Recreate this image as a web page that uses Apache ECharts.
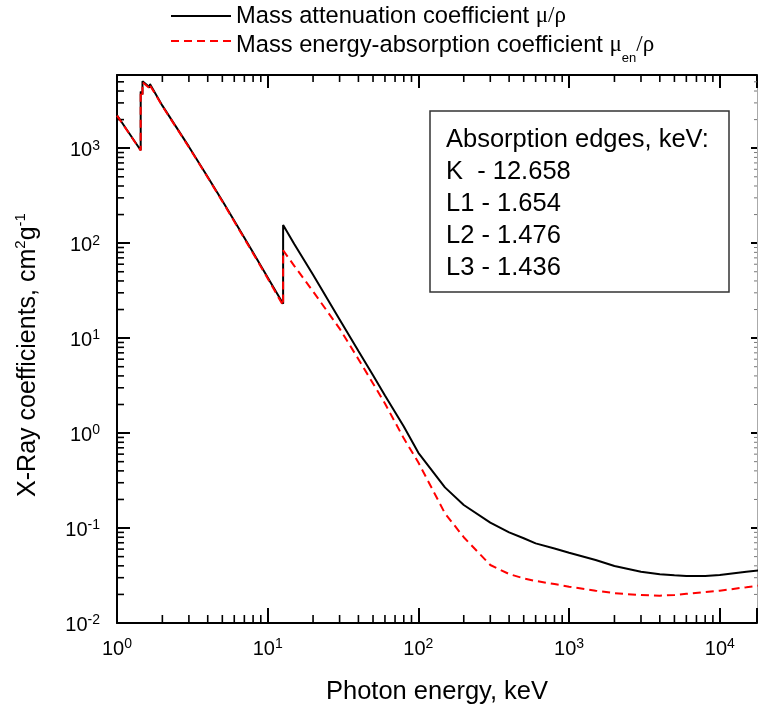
<!DOCTYPE html>
<html><head><meta charset="utf-8">
<script src="https://cdn.jsdelivr.net/npm/echarts@6/dist/echarts.min.js"></script>
<style>html,body{margin:0;padding:0;background:#fff}#c{width:759px;height:708px}</style>
</head><body><div id="c"></div>
<script>
// Photon energies (keV), duplicated at absorption edges
const energy = [1, 1.436, 1.436, 1.476, 1.476, 1.654, 1.654, 2, 3, 4, 5, 6, 8, 10, 12.658, 12.658, 15, 20, 30, 40, 50, 60, 80, 100, 150, 200, 300, 400, 500, 600, 800, 1000, 1500, 2000, 3000, 4000, 5000, 6000, 8000, 10000, 15000, 20000];
// Mass attenuation coefficient mu/rho (cm2/g)
const muRho = [2225, 952, 3950, 3700, 5070, 4350, 4750, 2806, 1038, 498, 279, 172, 79.6, 43.6, 23, 155, 98, 46.5, 15.7, 7.3, 4.06, 2.49, 1.17, 0.62, 0.268, 0.175, 0.114, 0.090, 0.078, 0.069, 0.061, 0.055, 0.046, 0.0398, 0.0347, 0.0326, 0.0318, 0.0313, 0.0313, 0.032, 0.0347, 0.0362];
// Mass energy-absorption coefficient mu_en/rho (cm2/g)
const muEnRho = [2200, 945, 3850, 3600, 4950, 4250, 4600, 2780, 1025, 492, 275, 169, 78, 42.5, 22, 84, 57.7, 31, 12.6, 6.0, 3.33, 2.05, 0.88, 0.49, 0.143, 0.080, 0.0408, 0.0328, 0.0295, 0.0277, 0.0257, 0.0241, 0.0219, 0.0206, 0.0197, 0.0194, 0.0197, 0.0203, 0.0212, 0.0219, 0.0238, 0.0253];
// Axis ranges
const xRange = [1, 17660];
const yRange = [0.01, 5900];
const xExponents = [0, 1, 2, 3, 4];
const yExponents = [-2, -1, 0, 1, 2, 3];
const edgeLines = ['Absorption edges, keV:', 'K  - 12.658', 'L1 - 1.654', 'L2 - 1.476', 'L3 - 1.436'];
const NAME_MU = 'Mass attenuation coefficient μ/ρ';
const NAME_EN = 'Mass energy-absorption coefficient μen/ρ';

const F = '"Liberation Sans", Arial, sans-serif';
const FS = '"Liberation Serif", "Times New Roman", serif';

function minorValues(exps, range) {
  const out = [];
  exps.forEach(k => { for (let m = 2; m <= 9; m++) { const v = m * Math.pow(10, k); if (v > range[0] && v < range[1]) out.push(v); } });
  return out;
}
const xMinor = minorValues(xExponents, xRange);
const yMinor = minorValues(yExponents, yRange);

function powLabel(v) {
  const l = Math.log10(v), e = Math.round(l);
  if (Math.abs(l - e) > 1e-6) return '';
  return '{b|10}{s|' + e + '}';
}
const labelRich = {
  b: {fontSize: 20, lineHeight: 24, fontFamily: F, color: '#000'},
  s: {fontSize: 14, lineHeight: 14, verticalAlign: 'top', fontFamily: F, color: '#000'}
};
const blk = {color: '#000', width: 2};
const noSym = {color: 'rgba(0,0,0,0)', borderColor: 'rgba(0,0,0,0)', borderWidth: 0, opacity: 0};

const chart = echarts.init(document.getElementById('c'), null, {renderer: 'canvas'});
chart.setOption({
  animation: false,
  backgroundColor: '#fff',
  textStyle: {fontFamily: F},
  grid: {left: 117, right: 2, top: 75, bottom: 85, containLabel: false, outerBoundsMode: 'none'},
  legend: [
    {data: [NAME_MU], left: 170, top: 4, padding: 0, itemWidth: 60, itemHeight: 14, selectedMode: false,
     itemStyle: noSym,
     formatter: () => '{t|Mass attenuation coefficient }{g|μ/ρ}',
     textStyle: {rich: {
       t: {fontSize: 23.7, fontFamily: F, lineHeight: 26, color: '#000'},
       g: {fontSize: 23, fontFamily: FS, lineHeight: 26, color: '#000'}}}},
    {data: [NAME_EN], left: 170, top: 33, padding: 0, itemWidth: 60, itemHeight: 14, selectedMode: false,
     itemStyle: noSym,
     formatter: () => '{t|Mass energy-absorption coefficient }{g|μ}{s|en}{g|/ρ}',
     textStyle: {padding: [8, 0, 0, 0], rich: {
       t: {fontSize: 23.7, fontFamily: F, lineHeight: 40, color: '#000'},
       g: {fontSize: 23, fontFamily: FS, lineHeight: 40, color: '#000'},
       s: {fontSize: 13, fontFamily: F, lineHeight: 14, verticalAlign: 'bottom', color: '#000'}}}}
  ],
  xAxis: [
    {type: 'log', logBase: 10, min: xRange[0], max: xRange[1], position: 'bottom',
     name: 'Photon energy, keV', nameLocation: 'middle', nameGap: 56,
     nameTextStyle: {fontSize: 25.5, fontFamily: F, color: '#000'},
     axisLine: {lineStyle: blk}, axisTick: {inside: true, length: 15, lineStyle: blk},
     axisLabel: {formatter: powLabel, rich: labelRich, fontSize: 20, fontFamily: F, color: '#000', margin: 14},
     splitLine: {show: false}},
    {type: 'log', logBase: 10, min: xRange[0], max: xRange[1], position: 'top',
     axisLine: {lineStyle: blk}, axisTick: {inside: true, length: 13, lineStyle: blk},
     axisLabel: {show: false}, splitLine: {show: false}}
  ],
  yAxis: [
    {type: 'log', logBase: 10, min: yRange[0], max: yRange[1], position: 'left',
     axisLine: {lineStyle: blk}, axisTick: {inside: true, length: 13, lineStyle: blk},
     axisLabel: {formatter: powLabel, rich: labelRich, fontSize: 20, fontFamily: F, color: '#000', margin: 17, padding: [5, 0, 0, 0]},
     splitLine: {show: false}},
    {type: 'log', logBase: 10, min: yRange[0], max: yRange[1], position: 'right',
     axisLine: {lineStyle: {color: '#aaa', width: 1}}, axisTick: {inside: true, length: 6, lineStyle: blk},
     axisLabel: {show: false}, splitLine: {show: false}}
  ],
  series: [
    {type: 'custom', silent: true, xAxisIndex: 0, yAxisIndex: 0, data: xMinor.map(v => [v, 1]),
     renderItem: (params, api) => {
       const cs = params.coordSys; const x = api.coord([api.value(0), 1])[0];
       const yb = cs.y + cs.height, yt = cs.y;
       return {type: 'group', children: [
         {type: 'line', shape: {x1: x, y1: yb, x2: x, y2: yb - 8}, style: {stroke: '#000', lineWidth: 1.6}},
         {type: 'line', shape: {x1: x, y1: yt, x2: x, y2: yt + 7}, style: {stroke: '#000', lineWidth: 1.6}}]};
     }},
    {type: 'custom', silent: true, xAxisIndex: 0, yAxisIndex: 0, data: yMinor.map(v => [1, v]),
     renderItem: (params, api) => {
       const cs = params.coordSys; const y = api.coord([1, api.value(1)])[1];
       const xl = cs.x, xr = cs.x + cs.width;
       return {type: 'group', children: [
         {type: 'line', shape: {x1: xl, y1: y, x2: xl + 7, y2: y}, style: {stroke: '#000', lineWidth: 1.6}},
         {type: 'line', shape: {x1: xr, y1: y, x2: xr - 3, y2: y}, style: {stroke: '#777', lineWidth: 1}}]};
     }},
    {name: NAME_MU, type: 'line', xAxisIndex: 0, yAxisIndex: 0, symbol: 'none', z: 5,
     data: energy.map((e, i) => [e, muRho[i]]),
     lineStyle: {color: '#000', width: 2}, itemStyle: {color: '#000'}},
    {name: NAME_EN, type: 'line', xAxisIndex: 0, yAxisIndex: 0, symbol: 'none', z: 6,
     data: energy.map((e, i) => [e, muEnRho[i]]),
     lineStyle: {color: '#ff0000', width: 2, type: [8, 5]}, itemStyle: {color: '#ff0000'}}
  ],
  graphic: [
    {type: 'text', x: 28, y: 355, rotation: Math.PI / 2,
     style: {text: '{t|X-Ray coefficients, cm}{p|2}{t|g}{p|-1}', align: 'center', verticalAlign: 'middle',
       rich: {t: {fontSize: 25, fontFamily: F, lineHeight: 30, fill: '#000'},
              p: {fontSize: 15, fontFamily: F, lineHeight: 15, verticalAlign: 'top', fill: '#000'}}}},
    {type: 'rect', shape: {x: 430, y: 111, width: 299, height: 181}, z: 10,
     style: {fill: '#fff', stroke: '#333', lineWidth: 1.5}},
    {type: 'text', x: 446, y: 124, z: 11,
     style: {text: edgeLines.join('\n'), fontSize: 25.5, fontFamily: F, lineHeight: 32, fill: '#000'}}
  ]
});
</script></body></html>
